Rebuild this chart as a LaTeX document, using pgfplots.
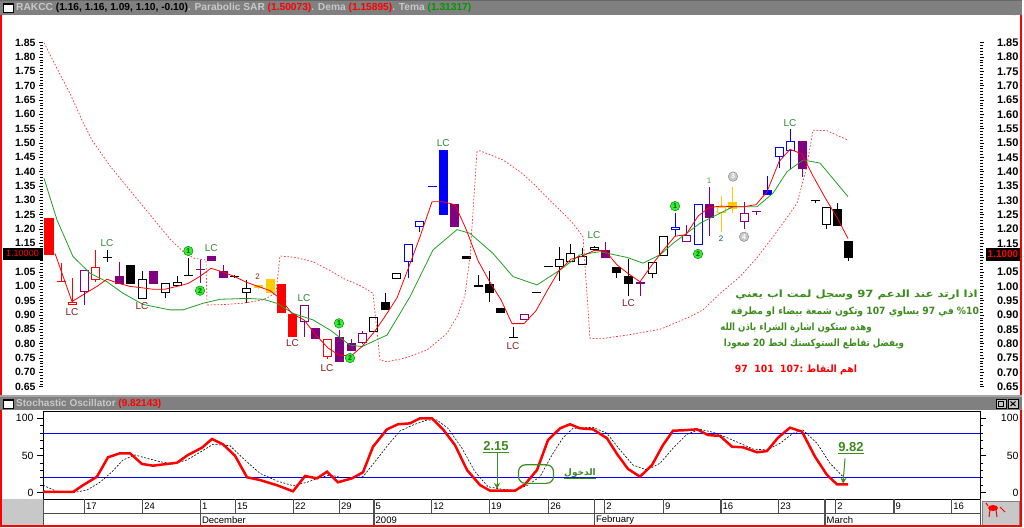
\documentclass[border=0pt]{standalone}
\usepackage{pgfplots}
\pgfplotsset{compat=1.18}
\usepackage{pgfplotstable}
\usepackage{fontspec}
\setmainfont{Liberation Sans}
\newfontfamily\arabicfont[Script=Arabic]{DejaVu Sans}
\TeXXeTstate=1
\usetikzlibrary{arrows.meta}
\definecolor{purp}{HTML}{800080}
\definecolor{gold}{HTML}{FFCC00}
\definecolor{temag}{HTML}{22A022}
\definecolor{annog}{HTML}{3C8C1E}
\definecolor{lcred}{HTML}{8B1A1A}
\definecolor{lcgreen}{HTML}{2E8B2E}
\definecolor{barg}{HTML}{808080}
\definecolor{lightg}{HTML}{C8C8C8}
\definecolor{circg}{HTML}{33EE33}
\definecolor{sepg}{HTML}{505050}
\definecolor{sarred}{HTML}{FF3030}

\pgfplotsset{
  wick/.style={draw=none, mark=none, forget plot,
    error bars/y dir=plus, error bars/y explicit, error bars/error mark=none,
    error bars/error bar style={draw=#1, line width=1pt}},
  body/.style={draw=none, mark=none, forget plot,
    error bars/y dir=plus, error bars/y explicit, error bars/error mark=none,
    error bars/error bar style={draw=#1, line width=9pt}},
  inner/.style={draw=none, mark=none, forget plot,
    error bars/y dir=plus, error bars/y explicit, error bars/error mark=none,
    error bars/error bar style={draw=white, line width=7pt}},
}

% candles: x, high, low, body top, body bottom
\pgfplotstableread{
x hi lo top bot
49 1.24 1.11 1.24 1.11
61 1.08 1.015 1.018 1.015
281 1.008 0.906 1.008 0.906
292.5 0.904 0.825 0.904 0.825
}\redfill
\pgfplotstableread{
x hi lo top bot
72.7 1.028 0.935 0.944 0.935
95.7 1.127 1.015 1.069 1.022
327 0.818 0.745 0.815 0.753
}\redhollow
\pgfplotstableread{
x hi lo top bot
119 1.086 1.008 1.036 1.008
153.5 1.055 1.008 1.055 1.008
211.3 1.106 1.09 1.106 1.09
223 1.075 1.03 1.055 1.03
315 0.856 0.817 0.856 0.817
339 0.848 0.737 0.825 0.737
351 0.815 0.776 0.804 0.776
454.7 1.287 1.208 1.287 1.208
605.3 1.156 1.098 1.127 1.098
709 1.345 1.176 1.286 1.237
802 1.507 1.38 1.507 1.408
200 1.092 1.011 1.059 1.056
640 1.02 0.968 1.013 1.010
756 1.263 1.25 1.263 1.260
}\purpfill
\pgfplotstableread{
x hi lo top bot
84.3 1.057 0.935 1.057 0.982
304 0.935 0.825 0.935 0.877
362 0.845 0.80 0.836 0.802
524.3 0.904 0.883 0.904 0.883
686 1.214 1.154 1.179 1.154
744 1.296 1.2 1.255 1.226
}\purphollow
\pgfplotstableread{
x hi lo top bot
130.5 1.075 1.008 1.075 1.008
385 0.976 0.918 0.944 0.918
466 1.106 1.097 1.106 1.097
478 1.038 1.0 1.004 0.998
489 1.055 0.947 1.007 0.976
500.8 0.924 0.906 0.924 0.906
616.7 1.067 1.028 1.067 1.048
628.5 1.094 0.968 1.036 1.008
837 1.29 1.211 1.269 1.211
848 1.16 1.09 1.16 1.10
548 1.07 1.068 1.070 1.067
107.3 1.127 1.086 1.102 1.099
188 1.098 1.037 1.039 1.036
234 1.04 1.028 1.035 1.032
513 0.859 0.823 0.825 0.821
536.7 0.979 0.977 0.979 0.976
815 1.301 1.29 1.302 1.299
}\blackfill
\pgfplotstableread{
x hi lo top bot
142 1.055 0.955 1.025 0.955
165 1.013 0.958 1.013 0.976
177 1.036 1.002 1.014 1.002
246 1.022 0.941 0.995 0.976
373.3 0.894 0.842 0.894 0.842
396.7 1.046 1.026 1.046 1.026
559 1.136 1.02 1.095 1.067
570.3 1.148 1.086 1.115 1.086
582 1.133 1.075 1.106 1.075
594 1.14 1.127 1.136 1.127
652 1.086 1.028 1.086 1.043
663.3 1.176 1.106 1.176 1.106
826 1.276 1.2 1.276 1.214
}\blackhollow
\pgfplotstableread{
x hi lo top bot
443.3 1.476 1.249 1.476 1.249
767 1.386 1.319 1.335 1.319
432 1.351 1.349 1.351 1.348
}\bluefill
\pgfplotstableread{
x hi lo top bot
408 1.148 1.028 1.148 1.086
419.7 1.228 1.191 1.228 1.208
675 1.257 1.176 1.208 1.197
698 1.286 1.144 1.286 1.144
779 1.487 1.412 1.487 1.452
790 1.548 1.408 1.507 1.473
}\bluehollow
\pgfplotstableread{
x hi lo top bot
258 1.005 0.99 1.005 0.995
270 1.026 0.978 1.026 0.978
732.7 1.345 1.255 1.296 1.27
}\goldfill
\pgfplotstableread{
x hi lo top bot
721 1.315 1.191 1.277 1.257
}\goldhollow

\newcommand\filledc[2]{%
 \addplot[wick=#2] table[x=x,y=lo,y error plus expr={\thisrow{hi}-\thisrow{lo}}]{#1};
 \addplot[body=#2] table[x=x,y=bot,y error plus expr={max(\thisrow{top}-\thisrow{bot},0.0035)}]{#1};}
\newcommand\hollowc[2]{%
 \addplot[wick=#2] table[x=x,y=lo,y error plus expr={\thisrow{hi}-\thisrow{lo}}]{#1};
 \addplot[body=#2] table[x=x,y=bot,y error plus expr={max(\thisrow{top}-\thisrow{bot},0.0035)}]{#1};
 \addplot[inner] table[x=x,y expr={\thisrow{bot}+0.0035},y error plus expr={max(\thisrow{top}-\thisrow{bot}-0.007,0)}]{#1};}

\newcommand\lbl[1]{\fontsize{#1}{#1}\selectfont}

\begin{document}
\begin{tikzpicture}
\useasboundingbox (0pt,0pt) rectangle (1024pt,-527pt);
\fill[white] (0pt,0pt) rectangle (1024pt,-527pt);
% title bar 1
\fill[barg] (0pt,0pt) rectangle (1022pt,-15pt);
\draw[black!60] (0pt,-0.5pt) -- (1022pt,-0.5pt);
\draw[black, fill=white] (3pt,-3.5pt) rectangle (13pt,-12pt);
\fill[black] (3pt,-3.5pt) rectangle (13pt,-5pt);
\node[anchor=west, inner sep=0pt, font=\bfseries\lbl{10.2}] at (16pt,-7.8pt)
 {\textcolor{lightg}{RAKCC} (1.16, 1.16, 1.09, 1.10, -0.10)\textcolor{lightg}{. Parabolic SAR} \textcolor{red}{(1.50073)}\textcolor{lightg}{. Dema} \textcolor{red}{(1.15895)}\textcolor{lightg}{. Tema} \textcolor{green!60!black}{(1.31317)}};
% title bar 2
\fill[barg!70] (0pt,-395pt) rectangle (1022pt,-397pt);
\fill[barg] (0pt,-397pt) rectangle (1022pt,-410pt);
\draw[black, fill=white] (3pt,-399.5pt) rectangle (13pt,-408pt);
\fill[black] (3pt,-399.5pt) rectangle (13pt,-401pt);
\node[anchor=west, inner sep=0pt, font=\bfseries\lbl{10}] at (16pt,-403.8pt)
 {\textcolor{lightg}{Stochastic Oscillator} \textcolor{red}{(9.82143)}};
\draw[black, fill=lightg] (996pt,-399pt) rectangle (1006pt,-408.5pt);
\draw[black] (998.5pt,-401.5pt) rectangle (1003.5pt,-406pt);
\draw[black, fill=lightg] (1008pt,-399pt) rectangle (1018pt,-408.5pt);
\draw[black, line width=1pt] (1010.5pt,-401.5pt) -- (1015.5pt,-406pt) (1010.5pt,-406pt) -- (1015.5pt,-401.5pt);

% ================= MAIN PRICE AXIS =================
\begin{axis}[at={(43pt,-16.9pt)}, anchor=north west, scale only axis,
  width=937pt, height=378.4pt, xmin=43, xmax=980, ymin=0.62, ymax=1.94,
  clip mode=individual, xtick=\empty,
  ytick={0.65,0.70,0.75,0.80,0.85,0.90,0.95,1.00,1.05,1.10,1.15,1.20,1.25,1.30,1.35,1.40,1.45,1.50,1.55,1.60,1.65,1.70,1.75,1.80,1.85},
  yticklabels={0.65,0.70,0.75,0.80,0.85,0.90,0.95,1.00,1.05,{},1.15,1.20,1.25,1.30,1.35,1.40,1.45,1.50,1.55,1.60,1.65,1.70,1.75,1.80,1.85},
  minor y tick num=4, tick align=outside, major tick length=4pt, minor tick length=2.5pt,
  every tick/.style={black, line width=0.6pt},
  yticklabel style={font=\bfseries\lbl{10.5}},
  axis line style={black, line width=0.8pt},
  x axis line style={draw=none}]
\filledc{\redfill}{red}
\hollowc{\redhollow}{red}
\filledc{\purpfill}{purp}
\hollowc{\purphollow}{purp}
\filledc{\blackfill}{black}
\hollowc{\blackhollow}{black}
\filledc{\bluefill}{blue}
\hollowc{\bluehollow}{blue}
\filledc{\goldfill}{gold}
\hollowc{\goldhollow}{gold}
% Parabolic SAR
\addplot[sarred, line width=0.7pt, dash pattern=on 1.6pt off 1.8pt] coordinates {
(44,1.85) (57,1.76) (70,1.673) (82,1.58) (92,1.51) (110,1.42) (130,1.335) (150,1.25) (170,1.165) (185,1.115) (195,1.097) (206,1.092) (207,0.935) (225,0.937) (243,0.941) (263,0.953) (276,0.976) (280,1.106) (295,1.101) (313,1.086) (330,1.055) (345,1.025) (360,1.003) (373,0.976) (380,0.743) (387,0.737) (405,0.75) (427,0.778) (447,0.836) (458,0.9) (465,0.97) (470,1.104) (477,1.47) (480,1.473) (503,1.441) (520,1.40) (533,1.36) (547,1.31) (560,1.266) (573,1.22) (583,1.173) (590,0.819) (600,0.817) (627,0.83) (660,0.85) (690,0.894) (703,0.918) (720,0.975) (740,1.034) (757,1.10) (773,1.173) (787,1.24) (797,1.29) (806,1.406) (813,1.545) (827,1.543) (848,1.51)};
% Tema (green)
\addplot[temag, line width=0.8pt] coordinates {
(44,1.377) (57,1.232) (73,1.104) (90,1.046) (107,1.016) (123,0.976) (143,0.937) (170,0.918) (183,0.918) (203,0.941) (220,0.955) (247,0.958) (263,0.955) (277,0.941) (293,0.906) (313,0.883) (330,0.848) (350,0.795) (362,0.79) (387,0.83) (410,0.964) (433,1.127) (457,1.198) (470,1.185) (493,1.115) (513,1.034) (537,1.005) (560,1.057) (580,1.11) (600,1.121) (627,1.101) (643,1.081) (660,1.11) (673,1.15) (700,1.22) (733,1.278) (757,1.278) (773,1.325) (787,1.40) (803,1.441) (820,1.43) (848,1.313)};
% Dema (red)
\addplot[red, line width=0.8pt] coordinates {
(55,1.115) (72,0.947) (85,0.975) (97,1.0) (107,1.025) (119,1.01) (130,1.0) (142,0.995) (153,0.99) (165,0.99) (177,1.0) (188,1.01) (200,1.035) (211,1.063) (223,1.05) (234,1.035) (246,1.015) (258,1.0) (270,0.985) (281,0.955) (292,0.905) (304,0.883) (316,0.83) (328,0.785) (339,0.76) (351,0.757) (362,0.79) (374,0.84) (385,0.895) (397,0.96) (408,1.06) (420,1.173) (432,1.295) (443,1.295) (455,1.285) (466,1.2) (478,1.09) (489,1.02) (501,0.953) (512,0.87) (524,0.87) (536,0.915) (548,0.99) (559,1.055) (571,1.095) (582,1.105) (594,1.125) (605,1.125) (617,1.075) (628,1.045) (640,1.016) (652,1.075) (663,1.125) (675,1.175) (686,1.18) (698,1.245) (709,1.275) (721,1.28) (733,1.278) (744,1.278) (756,1.285) (767,1.33) (779,1.435) (790,1.478) (802,1.462) (813,1.385) (825,1.31) (837,1.24) (848,1.167)};
% labels
\tikzset{lcg/.style={lcgreen, font=\lbl{10}, inner sep=0pt},
         lcr/.style={lcred, font=\lbl{10}, inner sep=0pt},
         gc/.style={circle, fill=circg, draw=green!45!black, line width=0.4pt, inner sep=0pt, minimum size=9.5pt, text=green!35!black, font=\bfseries\lbl{7}},
         grc/.style={circle, fill=lightg, draw=gray, line width=0.4pt, inner sep=0pt, minimum size=9.5pt, text=white, font=\bfseries\lbl{7}},
         arab/.style={annog, font=\arabicfont\bfseries\lbl{10}, inner sep=0pt}}
\node[lcr] at (axis cs:72,0.912) {LC};
\node[lcg] at (axis cs:107,1.150) {LC};
\node[lcr] at (axis cs:142,0.933) {LC};
\node[gc] at (axis cs:188.3,1.1235) {1};
\node[gc] at (axis cs:200,0.985) {2};
\node[lcg] at (axis cs:211.3,1.133) {LC};
\node[lcred, font=\lbl{8}] at (axis cs:257.7,1.032) {2};
\node[lcred, font=\lbl{7}] at (axis cs:246.7,0.949) {1};
\node[lcr] at (axis cs:292.5,0.8015) {LC};
\node[lcg] at (axis cs:304,0.9585) {LC};
\node[lcr] at (axis cs:327,0.7154) {LC};
\node[gc] at (axis cs:339,0.871) {1};
\node[gc] at (axis cs:350,0.750) {2};
\node[lcg] at (axis cs:443.3,1.499) {LC};
\node[lcr] at (axis cs:513,0.792) {LC};
\node[lcg] at (axis cs:594,1.179) {LC};
\node[lcr] at (axis cs:628.5,0.943) {LC};
\node[gc] at (axis cs:675,1.280) {1};
\node[gc] at (axis cs:698,1.113) {2};
\node[green!35!gray, font=\lbl{8}] at (axis cs:709,1.369) {1};
\node[teal!70!black, font=\lbl{8}] at (axis cs:721,1.168) {2};
\node[grc] at (axis cs:733,1.383) {3};
\node[grc] at (axis cs:744,1.173) {4};
\node[lcg] at (axis cs:790,1.569) {LC};
% arabic notes
\node[arab] at (axis cs:856.5,0.970) {\scalebox{1.17}[1]{\beginR اذا ارتد عند الدعم 97 وسجل لمت اب يعني\endR}};
\node[arab] at (axis cs:855,0.911) {\scalebox{0.92}[1]{\beginR\beginL\%10\endL{} في 97 يساوي 107 وتكون شمعة بيضاء او مطرقة\endR}};
\node[arab] at (axis cs:796,0.855) {\scalebox{0.86}[1]{\beginR وهذه ستكون اشارة الشراء باذن الله\endR}};
\node[arab] at (axis cs:814,0.799) {\scalebox{0.87}[1]{\beginR ويفضل تقاطع الستوكستك لخط 20 صعودا\endR}};
\node[arab, red] at (axis cs:796,0.708) {\scalebox{0.93}[1]{\beginR اهم النقاط :107 \ 101 \ 97\endR}};
\end{axis}
% right labels for price axis
\begin{axis}[at={(43pt,-16.9pt)}, anchor=north west, scale only axis,
  width=937pt, height=378.4pt, xmin=43, xmax=980, ymin=0.62, ymax=1.94,
  xtick=\empty, yticklabel pos=right,
  ytick={0.65,0.70,0.75,0.80,0.85,0.90,0.95,1.00,1.05,1.10,1.15,1.20,1.25,1.30,1.35,1.40,1.45,1.50,1.55,1.60,1.65,1.70,1.75,1.80,1.85},
  yticklabels={0.65,0.70,0.75,0.80,0.85,0.90,0.95,1.00,1.05,{},1.15,1.20,1.25,1.30,1.35,1.40,1.45,1.50,1.55,1.60,1.65,1.70,1.75,1.80,1.85},
  major tick length=0pt, minor tick length=0pt, axis line style={draw=none},
  yticklabel style={font=\bfseries\lbl{11}, anchor=east, xshift=42pt}]
\end{axis}

% ================= STOCHASTIC =================
\begin{axis}[at={(43pt,-411pt)}, anchor=north west, scale only axis,
  width=937pt, height=88pt, xmin=43, xmax=980, ymin=-8.5, ymax=109.8,
  clip mode=individual, xtick=\empty, ytick={0,50,100}, minor ytick={10,20,30,40,60,70,80,90},
  tick align=outside, major tick length=6pt, minor tick length=3pt,
  every tick/.style={black, line width=0.7pt},
  yticklabel style={font=\lbl{10.5}, /pgf/number format/assume math mode=true},
  axis line style={black, line width=0.8pt}]
\addplot[blue, line width=0.8pt] coordinates {(43,80) (980,80)};
\addplot[blue, line width=0.8pt] coordinates {(43,20) (980,20)};
\addplot[black, line width=0.6pt, dash pattern=on 2pt off 1.5pt] coordinates {
(43,10) (58,1) (73,0) (87,3.6) (100,14) (112,28) (123,44) (135,50.7) (147,46.2) (160,41.7) (173,38.6) (187,44) (200,54.3) (213,65) (230,63.2) (243,46.2) (260,26) (277,15.7) (293,9.4) (307,14) (320,20.2) (330,23.8) (340,20.7) (353,20.2) (363,21.5) (375,41.7) (388,64.1) (400,83) (413,91) (427,97.7) (437,97.7) (448,86.5) (462,59.7) (475,28.2) (488,8) (502,4.6) (515,3) (528,10.3) (540,21.5) (552,50.7) (563,73.9) (573,86.5) (593,87.9) (607,79.8) (620,57.4) (633,37.2) (647,30.5) (660,39.5) (673,59.7) (687,78.5) (700,85.2) (713,81.2) (727,73.9) (740,66.4) (753,58.7) (767,57.4) (780,66.4) (793,79.8) (803,84.3) (817,66.4) (830,39.5) (843,21.5)};
\addplot[red, line width=2.5pt] coordinates {
(43,1.3) (58,1) (73,1) (83,10) (97,21.5) (108,47.6) (120,53) (130,53) (142,38.6) (153,36.3) (167,38.6) (177,40.3) (188,50.7) (202,60.5) (212,72.2) (223,65) (235,49.7) (247,20.7) (260,17) (277,10) (293,1.9) (305,22.4) (317,19.3) (327,28.2) (338,14) (352,19.3) (363,27.4) (373,61.8) (387,85.2) (398,92) (410,93.2) (420,100) (432,100) (443,85.2) (455,64) (467,30.5) (480,10.3) (490,2.7) (503,2.7) (515,2.7) (525,11.2) (537,30.5) (548,70.8) (560,86.5) (570,92) (580,86.5) (593,85.2) (607,73.1) (617,52) (628,31.9) (640,21.5) (652,37.2) (663,64.1) (673,83.3) (685,84) (697,85.2) (708,77.5) (720,76.3) (732,61.8) (743,61) (757,54.3) (767,56) (778,73.9) (790,87.4) (802,82) (815,48.4) (827,23.8) (837,11.2) (848,11.2)};
\node[annog, font=\bfseries\lbl{13}, inner sep=0pt] at (axis cs:496,61) {\underline{2.15}};
\draw[annog, line width=1pt, -{Stealth[length=6pt,width=6pt]}] (axis cs:497,53) -- (axis cs:497,5);
\node[annog, font=\bfseries\lbl{13}, inner sep=0pt] at (axis cs:851,60) {\underline{9.82}};
\draw[annog, line width=1pt, -{Stealth[length=6pt,width=6pt]}] (axis cs:845,46) -- (axis cs:843,12);
\draw[annog, line width=1.2pt, rounded corners=7pt] (axis cs:518.5,37.5) rectangle (axis cs:553.5,12.5);
\node[annog, font=\arabicfont\bfseries\lbl{9}, inner sep=0pt] at (axis cs:580,25.5) {\underline{\beginR الدخول\endR}};
\end{axis}
\begin{axis}[at={(43pt,-411pt)}, anchor=north west, scale only axis,
  width=937pt, height=88pt, xmin=43, xmax=980, ymin=-8.5, ymax=109.8,
  xtick=\empty, ytick={0,50,100}, yticklabel pos=right,
  major tick length=0pt, minor tick length=0pt, axis line style={draw=none},
  yticklabel style={font=\lbl{10.5}, /pgf/number format/assume math mode=true, anchor=east, xshift=42pt}]
\end{axis}

% ================= DATE ROWS =================
\fill[lightg] (2pt,-499pt) rectangle (43pt,-526pt);
\draw[sepg, line width=1pt] (43pt,-499pt) -- (43pt,-527pt);
\draw[black!70, line width=0.6pt] (43pt,-513pt) -- (980pt,-513pt);
\draw[black!70, line width=0.8pt] (980pt,-499pt) -- (980pt,-527pt);
\foreach \xx/\tt in {84.3/17,142.7/24,200.3/1,235.3/15,293.3/22,339.3/29,374/5,431.7/12,489.3/19,548.7/26,604.7/2,663.3/9,721/16,778.7/23,835.7/2,894/9,951.7/16}{
  \draw[sepg, line width=1.2pt] (\xx pt,-499pt) -- (\xx pt,-513pt);
  \node[anchor=west, inner sep=0pt, font=\lbl{9.5}] at ({\xx pt+1.5pt},-506.5pt) {\tt};
}
\draw[sepg, line width=1.2pt] (594.3pt,-499pt) -- (594.3pt,-513pt);
\draw[sepg, line width=1.2pt] (825pt,-499pt) -- (825pt,-513pt);
\foreach \xx/\tt in {200.3/December,374/2009,594.3/February,825/March}{
  \draw[sepg, line width=1.2pt] (\xx pt,-513pt) -- (\xx pt,-527pt);
  \node[anchor=west, inner sep=0pt, font=\lbl{9.5}] at ({\xx pt+1.5pt},-520.5pt) {\tt};
}
% bottom right icon box
\draw[gray, fill=lightg, line width=0.8pt] (982pt,-501pt) rectangle (1019pt,-525pt);
\fill[red] (993pt,-508pt) ellipse (5pt and 3pt);
\draw[red, line width=1pt] (990pt,-510pt) -- (989pt,-517pt) (996pt,-510pt) -- (997pt,-517pt) (988pt,-506pt) -- (986pt,-503pt) (1000pt,-507pt) -- (1005pt,-512pt);
% price flags
\fill[black] (2.5pt,-247.5pt) rectangle (42.5pt,-260pt);
\node[red, font=\lbl{9}, inner sep=0pt] at (22.5pt,-253.8pt) {1.10000};
\fill[black] (985.5pt,-247.5pt) rectangle (1020.5pt,-260.5pt);
\node[red, font=\bfseries\lbl{10}, inner sep=0pt] at (1003pt,-254pt) {1.1000};
% red frames
\draw[red, line width=1.6pt] (1pt,-15pt) -- (1pt,-395pt) (1021pt,-15pt) -- (1021pt,-395pt);
\draw[red, line width=1.6pt] (1pt,-410pt) -- (1pt,-526.2pt) -- (1021pt,-526.2pt) -- (1021pt,-410pt);
\end{tikzpicture}
\end{document}
